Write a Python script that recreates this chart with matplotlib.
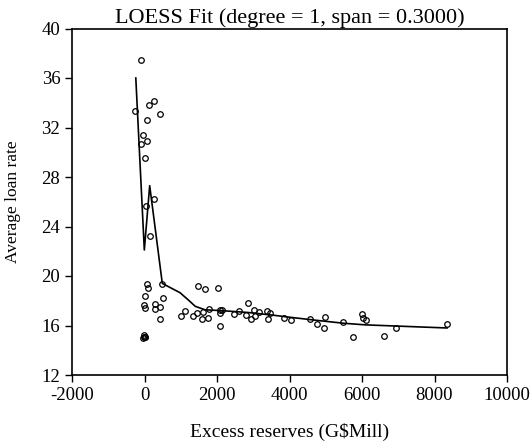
import matplotlib
matplotlib.use("Agg")
import matplotlib.pyplot as plt
import numpy as np

# scatter data
reserves = [-105, -253, 253, 124, 437, 69, -41, 60, -87, 5, 271, 33, 161,
            60, 87, 14, 491, 510, -14, 14, 298, 437, 281, 428, 999, 1126,
            1347, 1457, 1476, 1660, 2036, 1623, 1770, 1595, 1761, 2083, 2147,
            2083, 2074, 2460, 2616, 2864, 2800, 2929, 3029, 3040, 3167, 3371,
            3471, 3407, 3857, 4050, 4566, 4759, 4988, 4952, 5468, 5743, 6000,
            6037, 6102, 6598, 6938, 8345,
            -20, -10, 0, -30, 10]
loan_rate = [37.45, 33.36, 34.14, 33.8, 33.1, 32.6, 31.42, 30.93, 30.67, 29.5,
             26.2, 25.68, 23.26,
             19.33, 19.0, 18.38, 19.35, 18.25, 17.68, 17.44, 17.76, 17.47,
             17.31, 16.55, 16.79, 17.2, 16.79, 17.03, 19.17, 18.93, 19.03,
             17.11, 17.31, 16.53, 16.61, 17.25, 17.22, 16.99, 15.93, 16.9,
             17.2, 17.79, 16.82, 16.53, 17.23, 16.74, 17.11, 17.15, 17.0,
             16.53, 16.63, 16.47, 16.53, 16.15, 16.66, 15.77, 16.31, 15.1,
             16.9, 16.58, 16.42, 15.13, 15.8, 16.15,
             15.25, 15.1, 15.05, 15.0, 15.05]

# LOESS fit line
fit_x = [-240, -5, 143, 491, 980, 1210, 1400, 1670, 2130, 2860, 3500, 4000,
         4800, 5500, 6100, 7000, 8345]
fit_y = [36.0, 22.1, 27.3, 19.4, 18.65, 18.06, 17.55, 17.27, 17.2, 17.05,
         16.85, 16.67, 16.4, 16.18, 16.05, 15.95, 15.8]

xticks = [-2000, 0, 2000, 4000, 6000, 8000, 10000]
yticks = [12, 16, 20, 24, 28, 32, 36, 40]

plt.rcParams['font.family'] = ['Liberation Serif', 'DejaVu Serif']
plt.rcParams['axes.unicode_minus'] = False

fig = plt.figure(figsize=(5.32, 4.42), dpi=100)
ax = fig.add_axes([72 / 532, 67 / 442, 435 / 532, 346.5 / 442])

ax.plot(reserves, loan_rate, 'o', mfc='none', mec='black', mew=0.9, ms=4.0)
ax.plot(fit_x, fit_y, color='black', lw=1.2)

ax.set_xlim(-2000, 10000)
ax.set_ylim(12, 40)
ax.set_xticks(xticks)
ax.set_yticks(yticks)
ax.tick_params(direction='out', length=5, width=1, labelsize=13.5, top=False, right=False)
for s in ax.spines.values():
    s.set_linewidth(1.2)

ax.set_title("LOESS Fit (degree = 1, span = 0.3000)", fontsize=16, pad=4)
ax.set_xlabel("Excess reserves (G$Mill)", fontsize=14, labelpad=14)
ax.set_ylabel("Average loan rate", fontsize=12.5, labelpad=15)

fig.savefig("out.png", dpi=100)
